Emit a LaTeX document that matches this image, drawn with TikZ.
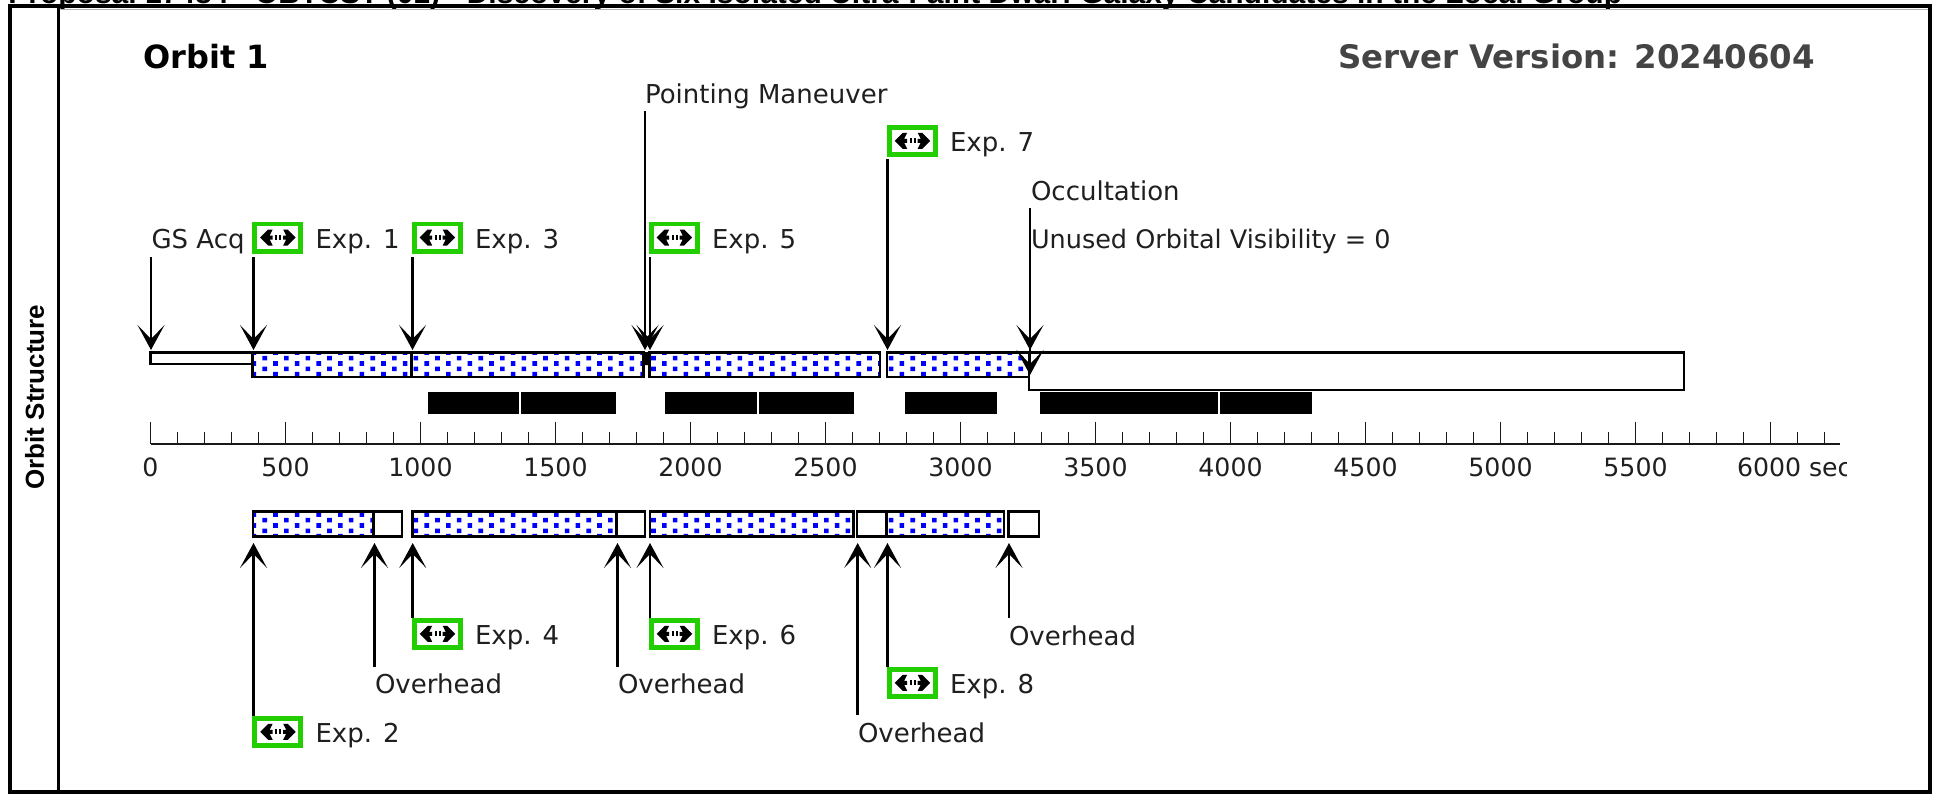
\documentclass[tikz,border=0pt]{standalone}
\usepackage{fontspec}
\setmainfont{DejaVu Sans}
\newfontfamily\arialfont{Liberation Sans}
\usetikzlibrary{arrows.meta,patterns}
\pgfdeclarepatternformonly{bluedots}{\pgfqpoint{-1pt}{-1pt}}{\pgfqpoint{12pt}{7pt}}{\pgfqpoint{10.8pt}{5.4pt}}{%
  \pgfpathrectangle{\pgfqpoint{1.6pt}{0.3pt}}{\pgfqpoint{2.3pt}{2.3pt}}%
  \pgfpathrectangle{\pgfqpoint{7pt}{3pt}}{\pgfqpoint{2.3pt}{2.3pt}}%
  \pgfusepath{fill}}
\definecolor{expgreen}{RGB}{34,206,0}
\definecolor{servergray}{RGB}{68,68,68}
\tikzset{
  lbl/.style={anchor=base west,inner sep=0pt,outer sep=0pt,font=\fontsize{13}{15}\selectfont,text=black!88},
  wlbl/.style={lbl,font=\fontsize{12.75}{15}\selectfont},
  axlbl/.style={anchor=base,inner sep=0pt,outer sep=0pt,font=\fontsize{12.6}{15}\selectfont,text=black!88},
  head/.style={anchor=base west,inner sep=0pt,outer sep=0pt,font=\fontsize{16}{18}\selectfont\bfseries},
  whitebar/.style={draw=black,line width=1.4pt,fill=white},
  dotbar/.style={draw=black,line width=1.4pt,pattern=bluedots,pattern color=blue},
  blackbar/.style={fill=black},
  sep/.style={draw=white,line width=0.8pt},
  conn/.style={draw=black,line width=1.25pt,-{Stealth[length=12.5pt,width=13.5pt,inset=7pt]}},
  tick/.style={draw=black!90,line width=0.85pt},
  expbox/.style={draw=expgreen,line width=2.4pt,fill=white,minimum width=23pt,minimum height=13.6pt,inner sep=0pt,outer sep=0pt,anchor=north west},
  framel/.style={draw=black,line width=2.2pt},
}
% name, left x, top y, label
\newcommand{\expicon}[4]{%
  \node[expbox] (#1) at (#2+2.2,#3+2.2) {};
  \fill[black] ([shift={(5.5,13.6)}]#1.north west) -- ++(8,-8) -- ++(4.5,0) -- ++(-3,6) -- ++(3,0) -- ++(0,4) -- ++(-3,0) -- ++(3,6) -- ++(-4.5,0) -- cycle;
  \fill[black] ([shift={(41,13.6)}]#1.north west) -- ++(-8,-8) -- ++(-4.5,0) -- ++(3,6) -- ++(-3,0) -- ++(0,4) -- ++(3,0) -- ++(-3,6) -- ++(4.5,0) -- cycle;
  \fill[black] ([shift={(20.4,11.2)}]#1.north west) rectangle ++(2,4.6);
  \fill[black] ([shift={(24.6,11.2)}]#1.north west) rectangle ++(2,4.6);
  \node[lbl] (#1l) at (#2+63,#3+26.8) {#4};}
\newcommand{\arrline}[4]{%
  \coordinate (#1s) at (#2,#3);
  \coordinate (#1e) at (#2,#4);
  \draw[conn] (#1s) -- (#1e);}
\begin{document}
\begin{tikzpicture}[x=0.5pt,y=-0.5pt]
\useasboundingbox (0,0) rectangle (1939,793);
\fill[white] (0,0) rectangle (1939,793);
% title, cut by the page edge
\node[anchor=base west,inner sep=0pt,font=\arialfont\bfseries\fontsize{15}{17}\selectfont] (title) at (8,3.5) {Proposal 17484 - OBTCST (01) - Discovery of Six Isolated Ultra-Faint Dwarf Galaxy Candidates in the Local Group};
% frame
\draw[framel] (10.2,6) rectangle (1930,792);
\draw[draw=black,line width=1.5pt] (58.5,6) -- (58.5,792);
\draw[draw=black!30,line width=0.5pt] (60.5,9) -- (1927.5,9);
\node[rotate=90,inner sep=0pt,font=\arialfont\bfseries\fontsize{13}{15}\selectfont] (side) at (34.5,397) {Orbit Structure};
\node[head] (orbit) at (143.5,68) {Orbit 1};
\node[head,text=servergray,font=\fontsize{16.2}{18}\selectfont\bfseries] (server) at (1338,68) {Server Version: 20240604};
% upper bars
\draw[whitebar] (150.5,352.5) rectangle (252.5,364);
\draw[dotbar] (252.5,352.5) rectangle (411.5,377);
\draw[dotbar] (411.5,352.5) rectangle (643.5,377);
\draw[dotbar] (649.5,352.5) rectangle (880,377);
\draw[dotbar] (887,352.5) rectangle (1029,377);
\draw[whitebar] (1029,352.5) rectangle (1684,390);
\draw[draw=black,line width=1.8pt] (411.5,352.5) -- (411.5,377);
\fill[black] (641.5,352) -- (651.5,352) -- (649.5,365) -- (643.5,365) -- cycle;
% black visibility bars
\fill[blackbar] (428,392) rectangle (616,414);
\fill[blackbar] (665,392) rectangle (854,414);
\fill[blackbar] (905,392) rectangle (996.6,414);
\fill[blackbar] (1040,392) rectangle (1312,414);
\draw[sep] (520,392) -- (520,414);
\draw[sep] (758,392) -- (758,414);
\draw[sep] (1219,392) -- (1219,414);
% time axis
\draw[draw=black!90,line width=1.4pt] (150.5,444) -- (1840,444);
\foreach \i in {0,...,62}{
  \pgfmathsetmacro{\tx}{150.5+27*\i}
  \pgfmathtruncatemacro{\ismaj}{mod(\i,5)==0 ? 1 : 0}
  \ifnum\ismaj=1
    \draw[tick] (\tx,421.5) -- (\tx,444);
  \else
    \draw[tick] (\tx,432) -- (\tx,444);
  \fi
}
\node[axlbl] (t0) at (150.5,476) {0};
\node[axlbl] (t500) at (285.5,476) {500};
\node[axlbl] (t1000) at (420.5,476) {1000};
\node[axlbl] (t1500) at (555.5,476) {1500};
\node[axlbl] (t2000) at (690.5,476) {2000};
\node[axlbl] (t2500) at (825.5,476) {2500};
\node[axlbl] (t3000) at (960.5,476) {3000};
\node[axlbl] (t3500) at (1095.5,476) {3500};
\node[axlbl] (t4000) at (1230.5,476) {4000};
\node[axlbl] (t4500) at (1365.5,476) {4500};
\node[axlbl] (t5000) at (1500.5,476) {5000};
\node[axlbl] (t5500) at (1635.5,476) {5500};
\begin{scope}
  \clip (1700,450) rectangle (1846,485);
  \node[axlbl,anchor=base west] (t6000) at (1737,476) {6000 sec};
\end{scope}
% lower bars
\draw[dotbar] (253,511.5) rectangle (373.5,536.5);
\draw[whitebar] (373.5,511.5) rectangle (402,536.5);
\draw[dotbar] (412.7,511.5) rectangle (616.5,536.5);
\draw[whitebar] (616.5,511.5) rectangle (645,536.5);
\draw[dotbar] (650,511.5) rectangle (853.5,536.5);
\draw[whitebar] (857,511.5) rectangle (886.5,536.5);
\draw[dotbar] (886.5,511.5) rectangle (1004,536.5);
\draw[whitebar] (1008.5,511.5) rectangle (1039,536.5);
% upper connectors
\arrline{gs}{151}{257}{350}
\arrline{ea}{253.5}{257}{350}
\arrline{ec}{412.5}{257}{350}
\arrline{pm}{645}{111}{350}
\arrline{ee}{650}{257}{350}
\arrline{eg}{887.5}{159}{350}
\arrline{oc}{1030}{208}{350}
\coordinate (ocm) at (1030,340);
\coordinate (oce) at (1030,375);
\draw[conn] (ocm) -- (oce);
% lower connectors
\arrline{eb}{253.5}{716}{543}
\arrline{o1}{374.5}{667}{543}
\arrline{ed}{412.7}{618}{543}
\arrline{o2}{617.5}{667}{543}
\arrline{ef}{650}{618}{543}
\arrline{o3}{857.7}{715}{543}
\arrline{eh}{887.5}{667}{543}
\arrline{o4}{1009}{618}{543}
% labels
\node[lbl] (gsl) at (151.5,248.5) {GS Acq};
\node[lbl] (pml) at (645,103.5) {Pointing Maneuver};
\node[lbl] (ocl) at (1031,200) {Occultation};
\node[wlbl] (uvl) at (1031,248.5) {Unused Orbital Visibility = 0};
\node[lbl] (o1l) at (375,693) {Overhead};
\node[lbl] (o2l) at (618,693) {Overhead};
\node[lbl] (o3l) at (858,742) {Overhead};
\node[lbl] (o4l) at (1009,645) {Overhead};
\expicon{x1}{252.5}{221.7}{Exp. 1}
\expicon{x3}{412}{221.7}{Exp. 3}
\expicon{x5}{649}{221.7}{Exp. 5}
\expicon{x7}{887}{125}{Exp. 7}
\expicon{x4}{412}{618}{Exp. 4}
\expicon{x6}{649}{618}{Exp. 6}
\expicon{x8}{887}{667}{Exp. 8}
\expicon{x2}{252.5}{716}{Exp. 2}
\end{tikzpicture}
\end{document}
